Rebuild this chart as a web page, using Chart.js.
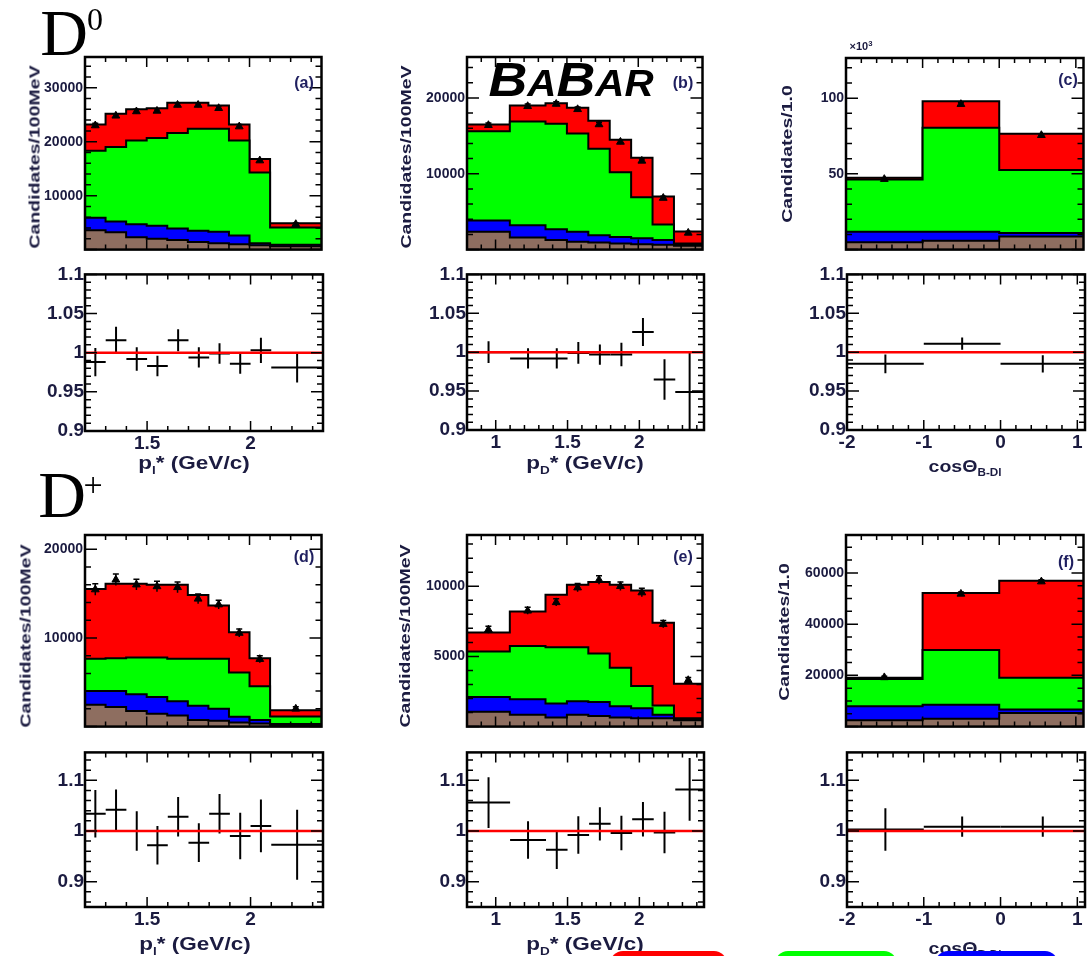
<!DOCTYPE html>
<html>
<head>
<meta charset="utf-8">
<script src="https://cdn.jsdelivr.net/npm/chart.js@4.4.1/dist/chart.umd.min.js"></script>
<style>
  body { margin: 0; width: 1090px; height: 956px; overflow: hidden; background: #fff; position: relative; }
  canvas { position: absolute; }
  .t { position: absolute; white-space: nowrap; line-height: 1; font-family: "Liberation Sans", Arial, sans-serif; font-weight: bold; color: #1b1b40; }
  .serif { font-family: "Liberation Serif", "Times New Roman", serif; font-weight: normal; color: #000; }
  .box { position: absolute; top: 951px; height: 26px; border-radius: 13px; }
</style>
</head>
<body>
<script>
// bin edges
const lepEdges = [1.2, 1.3, 1.4, 1.5, 1.6, 1.7, 1.8, 1.9, 2.0, 2.1, 2.35];
const mesEdges = [0.8, 1.1, 1.35, 1.5, 1.65, 1.8, 1.95, 2.1, 2.25, 2.45];
const cosEdges = [-2, -1, 0, 1.1];

// tick labels
const lepTicks = [1.5, 2];
const mesTicks = [1, 1.5, 2];
const cosTicks = [-2, -1, 0, 1];
const ratioTicksTop = [0.9, 0.95, 1, 1.05, 1.1];
const ratioTicksBottom = [0.9, 1, 1.1];
const aYTicks = [10000, 20000, 30000];
const bYTicks = [10000, 20000];
const cYTicks = [50, 100];          // x10^3
const dYTicks = [10000, 20000];
const eYTicks = [5000, 10000];
const fYTicks = [20000, 40000, 60000];

// (a) D0, lepton p*  -- stack tops: brown, blue, green, red(total)
const aBrown = [3600, 3200, 2300, 2000, 1800, 1400, 1200, 1000, 800, 600];
const aBlue  = [5900, 5200, 4700, 4400, 3900, 3500, 3300, 2600, 1200, 900];
const aGreen = [18300, 19000, 20200, 20700, 21600, 22400, 22400, 20200, 14300, 4100];
const aTotal = [23200, 25200, 26000, 26200, 27200, 27200, 26700, 23200, 16800, 4900];
const aData  = [23000, 24800, 25600, 25700, 26800, 26800, 26200, 22800, 16500, 4700];
const aErr   = [400, 400, 400, 400, 400, 400, 400, 400, 350, 250];
const aRatio = [0.988, 1.016, 0.992, 0.983, 1.016, 0.994, 0.999, 0.986, 1.003, 0.981];
const aRatioErr = [0.018, 0.017, 0.015, 0.013, 0.014, 0.013, 0.013, 0.013, 0.016, 0.019];

// (b) D0, D p*
const bBrown = [2350, 1600, 1250, 1050, 950, 800, 700, 650, 500];
const bBlue  = [3850, 3200, 2700, 2350, 1900, 1650, 1500, 1250, 700];
const bGreen = [15600, 16900, 16600, 15300, 13300, 10200, 6900, 3300, 800];
const bTotal = [16500, 19000, 19300, 18700, 17000, 14500, 12100, 7000, 2400];
const bData  = [16400, 18900, 19200, 18500, 16500, 14200, 11700, 6800, 2200];
const bErr   = [300, 300, 300, 300, 300, 300, 250, 250, 200];
const bRatio = [1.0, 0.992, 0.992, 0.999, 0.997, 0.997, 1.026, 0.965, 0.949];
const bRatioErr = [0.014, 0.013, 0.013, 0.014, 0.013, 0.015, 0.018, 0.026, 0.05];

// (c) D0, cos theta (x10^3)
const cBrown = [4.8, 5.9, 8.6];
const cBlue  = [11.8, 11.8, 10.9];
const cGreen = [46.3, 80.5, 52.5];
const cTotal = [47.5, 98, 76.5];
const cData  = [46.5, 96, 75.5];
const cErr   = [0.8, 1.0, 1.0];
const cRatio = [0.985, 1.011, 0.985];
const cRatioErr = [0.012, 0.008, 0.011];

// (d) D+, lepton p*
const dBrown = [2450, 2200, 1750, 1450, 1250, 750, 650, 450, 350, 150];
const dBlue  = [4000, 4000, 3650, 3350, 2850, 2350, 2000, 1100, 750, 300];
const dGreen = [7650, 7700, 7800, 7800, 7650, 7650, 7650, 6100, 4550, 1150];
const dTotal = [15500, 16100, 16100, 16000, 16000, 14850, 13650, 10650, 7700, 1850];
const dData  = [15450, 16550, 16000, 15800, 15700, 14400, 13750, 10550, 7600, 2000];
const dErr   = [650, 650, 600, 600, 600, 550, 500, 450, 400, 250];
const dRatio = [1.034, 1.042, 1.0, 0.972, 1.028, 0.977, 1.034, 0.99, 1.01, 0.973];
const dRatioErr = [0.047, 0.04, 0.039, 0.038, 0.039, 0.038, 0.039, 0.046, 0.052, 0.069];

// (e) D+, D p*
const eBrown = [1050, 850, 650, 850, 750, 650, 600, 600, 450];
const eBlue  = [2100, 1950, 1650, 1800, 1750, 1450, 1300, 850, 550];
const eGreen = [5350, 5750, 5650, 5650, 5200, 4200, 2900, 1500, 600];
const eTotal = [6700, 8200, 9400, 10100, 10300, 10100, 9700, 7400, 3050];
const eData  = [6900, 8250, 8850, 9900, 10450, 10000, 9550, 7300, 3300];
const eErr   = [250, 250, 250, 300, 300, 300, 300, 250, 200];
const eRatio = [1.056, 0.982, 0.963, 0.992, 1.014, 0.996, 1.023, 0.997, 1.082];
const eRatioErr = [0.05, 0.037, 0.038, 0.037, 0.033, 0.034, 0.034, 0.041, 0.062];

// (f) D+, cos theta
const fBrown = [2500, 3100, 5300];
const fBlue  = [7900, 8500, 6700];
const fGreen = [18600, 29900, 19100];
const fTotal = [19100, 52200, 56900];
const fData  = [19200, 51800, 56600];
const fErr   = [500, 700, 700];
const fRatio = [1.003, 1.0085, 1.0085];
const fRatioErr = [0.042, 0.02, 0.02];

const layerColors = ['#8e6e60', '#0000ff', '#00ff00', '#ff0000'];
const labelColor = '#1b1b40';

function tickValues(min, max, minor, major) {
  const out = [];
  for (let k = Math.ceil(min / minor - 1e-6); k * minor <= max + 1e-6; k++) {
    const v = k * minor, r = v / major;
    out.push([v, Math.abs(r - Math.round(r)) < 1e-6]);
  }
  return out;
}

// ROOT-like frame: inner ticks on all sides, error bars, crosses
const rootStyle = {
  id: 'rootStyle',
  beforeDatasetsDraw(chart, args, o) {
    if (o.crosses == null) return;
    const { ctx, chartArea: a, scales: { x, y } } = chart;
    const ds = chart.data.datasets[o.crosses];
    ctx.save();
    ctx.beginPath(); ctx.rect(a.left, a.top, a.width, a.height); ctx.clip();
    ctx.strokeStyle = '#000'; ctx.lineWidth = 2;
    ds.data.forEach((p, i) => {
      const px = x.getPixelForValue(p.x), py = y.getPixelForValue(p.y);
      ctx.beginPath();
      ctx.moveTo(x.getPixelForValue(p.x - ds.xerr[i]), py);
      ctx.lineTo(x.getPixelForValue(p.x + ds.xerr[i]), py);
      ctx.moveTo(px, y.getPixelForValue(p.y - ds.yerr[i]));
      ctx.lineTo(px, y.getPixelForValue(p.y + ds.yerr[i]));
      ctx.stroke();
    });
    ctx.restore();
  },
  afterDatasetsDraw(chart, args, o) {
    const { ctx, chartArea: a, scales: { x, y } } = chart;
    ctx.save();
    ctx.strokeStyle = '#000';
    if (o.errBars != null) {
      const ds = chart.data.datasets[o.errBars];
      ctx.lineWidth = 1.5;
      ds.data.forEach((p, i) => {
        const px = x.getPixelForValue(p.x);
        ctx.beginPath();
        ctx.moveTo(px, y.getPixelForValue(p.y - ds.yerr[i]));
        ctx.lineTo(px, y.getPixelForValue(p.y + ds.yerr[i]));
        ctx.moveTo(px - 3, y.getPixelForValue(p.y + ds.yerr[i]));
        ctx.lineTo(px + 3, y.getPixelForValue(p.y + ds.yerr[i]));
        ctx.stroke();
      });
    }
    ctx.lineWidth = 1.5;
    tickValues(x.min, x.max, o.xStep[0], o.xStep[1]).forEach(([v, major]) => {
      const px = x.getPixelForValue(v), len = major ? 10 : 5;
      ctx.beginPath();
      ctx.moveTo(px, a.bottom); ctx.lineTo(px, a.bottom - len);
      ctx.moveTo(px, a.top); ctx.lineTo(px, a.top + len);
      ctx.stroke();
    });
    tickValues(y.min, y.max, o.yStep[0], o.yStep[1]).forEach(([v, major]) => {
      const py = y.getPixelForValue(v), len = major ? 12 : 6;
      ctx.beginPath();
      ctx.moveTo(a.left, py); ctx.lineTo(a.left + len, py);
      ctx.moveTo(a.right, py); ctx.lineTo(a.right - len, py);
      ctx.stroke();
    });
    ctx.lineWidth = 2.5;
    ctx.strokeRect(a.left, a.top, a.width, a.height);
    ctx.restore();
  }
};
Chart.register(rootStyle);

function steps(edges, tops) {
  const pts = tops.map((v, i) => ({ x: edges[i], y: v }));
  pts.push({ x: edges[edges.length - 1], y: tops[tops.length - 1] });
  return pts;
}
const centers = edges => edges.slice(0, -1).map((e, i) => (e + edges[i + 1]) / 2);
const halfWidths = edges => edges.slice(0, -1).map((e, i) => (edges[i + 1] - e) / 2);

function makeCanvas(frame, padB) {
  const c = document.createElement('canvas');
  c.width = frame[2] - frame[0] + 80 + 4;
  c.height = frame[3] - frame[1] + 12 + padB;
  c.style.left = (frame[0] - 80) + 'px';
  c.style.top = (frame[1] - 12) + 'px';
  document.body.appendChild(c);
  return c;
}

function axis(min, max, ticks, size, fontSize, pad, horizontal) {
  const ax = {
    type: 'linear', min, max,
    grid: { display: false, drawTicks: false },
    border: { display: false },
    ticks: {
      display: !!ticks, autoSkip: false, maxRotation: 0, padding: pad,
      color: labelColor,
      font: { family: 'Liberation Sans', weight: 'bold', size: fontSize },
      callback: v => String(v)
    },
    afterFit: s => { if (horizontal) s.height = size; else s.width = size; }
  };
  if (ticks) ax.afterBuildTicks = s => { s.ticks = ticks.map(v => ({ value: v })); };
  return ax;
}

function mainPanel(p) {
  const c = makeCanvas(p.frame, 4);
  const datasets = [{
    type: 'line', showLine: false,
    data: centers(p.edges).map((x, i) => ({ x, y: p.data[i] })),
    yerr: p.err,
    pointStyle: 'triangle', pointRadius: 4.5,
    backgroundColor: '#000', borderColor: '#000', borderWidth: 1
  }];
  p.tops.forEach((tops, i) => datasets.push({
    data: steps(p.edges, tops), stepped: true,
    fill: 'origin', backgroundColor: layerColors[i],
    borderColor: '#000', borderWidth: 2, pointRadius: 0
  }));
  new Chart(c, {
    type: 'line',
    data: { datasets },
    options: {
      responsive: false, animation: false, events: [],
      layout: { padding: { top: 12, right: 4, left: 0, bottom: 0 } },
      plugins: { legend: { display: false }, tooltip: { enabled: false },
        rootStyle: { errBars: 0, xStep: p.xStep, yStep: p.yStep } },
      scales: {
        x: axis(p.edges[0], p.edges[p.edges.length - 1], null, 4, 14, 2, true),
        y: axis(p.y[0], p.y[1], p.yTicks, 80, 14, 2, false)
      }
    }
  });
}

function ratioPanel(p) {
  const c = makeCanvas(p.frame, 36);
  const xMin = p.edges[0], xMax = p.edges[p.edges.length - 1];
  new Chart(c, {
    type: 'line',
    data: { datasets: [
      { data: [{ x: xMin, y: 1 }, { x: xMax, y: 1 }], borderColor: '#ff0000', borderWidth: 2.5, pointRadius: 0, fill: false },
      { showLine: false, pointRadius: 0,
        data: centers(p.edges).map((x, i) => ({ x, y: p.vals[i] })),
        xerr: halfWidths(p.edges), yerr: p.errs }
    ] },
    options: {
      responsive: false, animation: false, events: [],
      layout: { padding: { top: 12, right: 4, left: 0, bottom: 0 } },
      plugins: { legend: { display: false }, tooltip: { enabled: false },
        rootStyle: { crosses: 1, xStep: p.xStep, yStep: p.yStep } },
      scales: {
        x: axis(xMin, xMax, p.xTicks, 36, 19, 1, true),
        y: axis(p.y[0], p.y[1], p.yTicks, 80, 19, 1, false)
      }
    }
  });
}

// top row (D0)
mainPanel({ frame: [85, 57, 323, 256], edges: lepEdges, tops: [aBrown, aBlue, aGreen, aTotal], data: aData, err: aErr,
  y: [0, 35700], yTicks: aYTicks, xStep: [0.1, 0.5], yStep: [2000, 10000] });
mainPanel({ frame: [467, 57, 704, 256], edges: mesEdges, tops: [bBrown, bBlue, bGreen, bTotal], data: bData, err: bErr,
  y: [0, 25400], yTicks: bYTicks, xStep: [0.1, 0.5], yStep: [2000, 10000] });
mainPanel({ frame: [846, 58, 1085, 256], edges: cosEdges, tops: [cBrown, cBlue, cGreen, cTotal], data: cData, err: cErr,
  y: [0, 126.5], yTicks: cYTicks, xStep: [0.2, 1], yStep: [10, 50] });
ratioPanel({ frame: [85, 274, 323, 431], edges: lepEdges, vals: aRatio, errs: aRatioErr,
  y: [0.9, 1.1], yTicks: ratioTicksTop, xTicks: lepTicks, xStep: [0.1, 0.5], yStep: [0.01, 0.05] });
ratioPanel({ frame: [467, 274, 704, 430], edges: mesEdges, vals: bRatio, errs: bRatioErr,
  y: [0.9, 1.1], yTicks: ratioTicksTop, xTicks: mesTicks, xStep: [0.1, 0.5], yStep: [0.01, 0.05] });
ratioPanel({ frame: [847, 274, 1085, 430], edges: cosEdges, vals: cRatio, errs: cRatioErr,
  y: [0.9, 1.1], yTicks: ratioTicksTop, xTicks: cosTicks, xStep: [0.2, 1], yStep: [0.01, 0.05] });

// bottom row (D+)
mainPanel({ frame: [85, 535, 323, 733], edges: lepEdges, tops: [dBrown, dBlue, dGreen, dTotal], data: dData, err: dErr,
  y: [0, 21600], yTicks: dYTicks, xStep: [0.1, 0.5], yStep: [2000, 10000] });
mainPanel({ frame: [467, 535, 704, 733], edges: mesEdges, tops: [eBrown, eBlue, eGreen, eTotal], data: eData, err: eErr,
  y: [0, 13650], yTicks: eYTicks, xStep: [0.1, 0.5], yStep: [1000, 5000] });
mainPanel({ frame: [846, 535, 1085, 733], edges: cosEdges, tops: [fBrown, fBlue, fGreen, fTotal], data: fData, err: fErr,
  y: [0, 74800], yTicks: fYTicks, xStep: [0.2, 1], yStep: [5000, 20000] });
ratioPanel({ frame: [85, 752, 323, 907], edges: lepEdges, vals: dRatio, errs: dRatioErr,
  y: [0.85, 1.155], yTicks: ratioTicksBottom, xTicks: lepTicks, xStep: [0.1, 0.5], yStep: [0.02, 0.1] });
ratioPanel({ frame: [467, 752, 704, 907], edges: mesEdges, vals: eRatio, errs: eRatioErr,
  y: [0.85, 1.155], yTicks: ratioTicksBottom, xTicks: mesTicks, xStep: [0.1, 0.5], yStep: [0.02, 0.1] });
ratioPanel({ frame: [847, 752, 1085, 907], edges: cosEdges, vals: fRatio, errs: fRatioErr,
  y: [0.85, 1.155], yTicks: ratioTicksBottom, xTicks: cosTicks, xStep: [0.2, 1], yStep: [0.02, 0.1] });

// text overlays
function label(html, cx, cy, css, cls) {
  const d = document.createElement('div');
  d.className = 't' + (cls ? ' ' + cls : '');
  d.innerHTML = html;
  d.style.left = cx + 'px';
  d.style.top = cy + 'px';
  d.style.transform = 'translate(-50%,-50%)' + (css.tf || '');
  if (css.size) d.style.fontSize = css.size + 'px';
  if (css.color) d.style.color = css.color;
  document.body.appendChild(d);
  return d;
}

label('D', 64, 33, { size: 66 }, 'serif');
label('0', 95, 19, { size: 32 }, 'serif');
label('D', 62, 495, { size: 66 }, 'serif');
label('+', 93, 485, { size: 34 }, 'serif');

const panelTags = [['(a)', 304, 83], ['(b)', 683, 83], ['(c)', 1068, 80], ['(d)', 304, 557], ['(e)', 683, 557], ['(f)', 1066, 562]];
panelTags.forEach(([s, x, y]) => label(s, x, y, { size: 16, color: '#1f1f5f' }));

const yTitles = [['Candidates/100MeV', 34, 157], ['Candidates/100MeV', 405, 157], ['Candidates/1.0', 786, 154],
  ['Candidates/100MeV', 25, 636], ['Candidates/100MeV', 404, 636], ['Candidates/1.0', 783, 632]];
yTitles.forEach(([s, x, y]) => label(s, x, y, { size: 15, tf: ' rotate(-90deg) scaleX(1.3)' }));

const pl = 'p<sub style="font-size:60%">l</sub>* (GeV/c)';
const pd = 'p<sub style="font-size:60%">D</sub>* (GeV/c)';
const cs = 'cos&Theta;<sub style="font-size:60%">B-Dl</sub>';
[[pl, 194, 465], [pd, 585, 465], [pl, 195, 946], [pd, 585, 946]]
  .forEach(([s, x, y]) => label(s, x, y, { size: 18, tf: ' scaleX(1.25)' }));
[[cs, 965, 468], [cs, 965, 950]]
  .forEach(([s, x, y]) => label(s, x, y, { size: 17, tf: ' scaleX(1.15)' }));

label('&times;10<sup style="font-size:70%">3</sup>', 861, 46, { size: 11 });

label('<span style="font-size:48px">B</span>A<span style="font-size:48px">B</span>AR', 571, 80,
  { size: 36, color: '#000', tf: ' scaleX(1.12)' }).style.fontStyle = 'italic';

[['#ff0000', 610, 117], ['#00ff00', 775, 122], ['#0000ff', 935, 123]].forEach(([col, x, w]) => {
  const b = document.createElement('div');
  b.className = 'box';
  b.style.left = x + 'px'; b.style.width = w + 'px'; b.style.background = col;
  document.body.appendChild(b);
});
</script>
</body>
</html>
